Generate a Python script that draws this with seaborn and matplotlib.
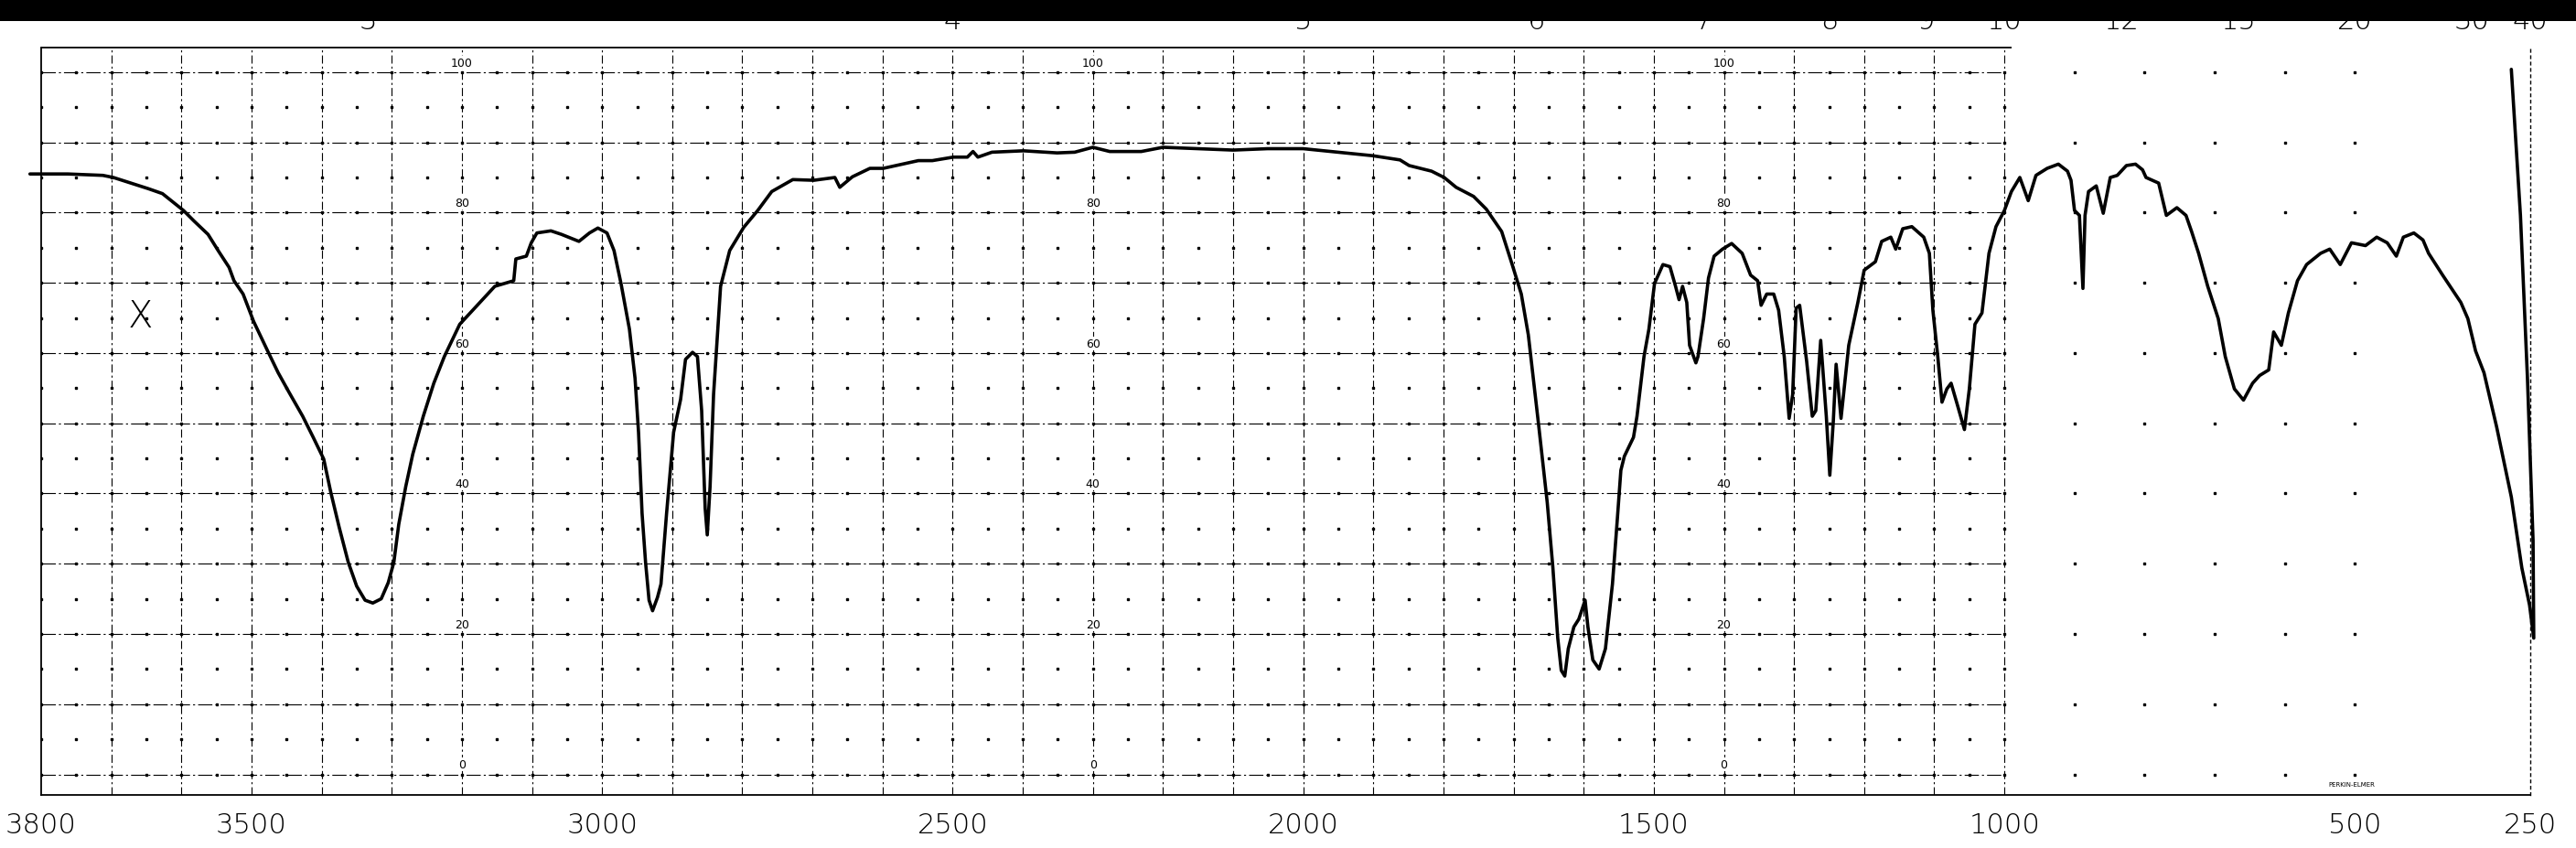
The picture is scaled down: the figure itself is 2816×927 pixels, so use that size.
import matplotlib
matplotlib.use("Agg")
import matplotlib.pyplot as plt
from matplotlib.patches import Rectangle
import numpy as np
import pandas as pd
import seaborn as sns

# IR spectrum: wavenumber (cm-1) and % transmittance, in pen order
wavenumber = [
    3816, 3762, 3712, 3697, 3672, 3647, 3627, 3612, 3597, 3582, 3562, 3547, 3532, 3525, 3512,
    3497, 3477, 3462, 3447, 3427, 3412, 3397, 3387, 3375, 3362, 3350, 3338, 3327, 3315, 3305,
    3297, 3290, 3280, 3270, 3255, 3240, 3225, 3203, 3178, 3153, 3126, 3123, 3108, 3101, 3093,
    3073, 3058, 3033, 3018, 3006, 2993, 2983, 2973, 2961, 2953, 2948, 2943, 2938, 2933, 2928,
    2921, 2916, 2908, 2898, 2888, 2881, 2871, 2864, 2858, 2853, 2850, 2846, 2841, 2831, 2818,
    2798, 2778, 2758, 2728, 2698, 2668, 2661, 2643, 2618, 2599, 2549, 2529, 2499, 2479, 2471,
    2464, 2444, 2399, 2351, 2326, 2300, 2276, 2231, 2200, 2151, 2100, 2051, 2000, 1951, 1901,
    1862, 1849, 1817, 1799, 1782, 1757, 1739, 1717, 1702, 1689, 1679, 1664, 1652, 1644, 1637,
    1632, 1627, 1622, 1614, 1607, 1598, 1594, 1587, 1578, 1569, 1559, 1552, 1547, 1542, 1529,
    1524, 1514, 1507, 1499, 1487, 1477, 1469, 1464, 1459, 1453, 1449, 1440, 1437, 1429, 1422,
    1414, 1402, 1389, 1374, 1362, 1352, 1347, 1339, 1329, 1322, 1314, 1307, 1302, 1297, 1292,
    1282, 1274, 1269, 1262, 1254, 1249, 1244, 1240, 1233, 1222, 1209, 1200, 1184, 1175, 1162,
    1155, 1145, 1132, 1115, 1107, 1102, 1095, 1089, 1082, 1076, 1067, 1057, 1050, 1042, 1032,
    1022, 1012, 1000, 990, 978, 966, 955, 939, 923, 910, 905, 900, 893, 888, 885,
    880, 869, 859, 849, 839, 826, 813, 803, 798, 780, 769, 754, 741, 733, 723,
    710, 695, 685, 672, 659, 646, 636, 623, 616, 605, 595, 582, 569, 549, 536,
    521, 505, 485, 469, 454, 441, 431, 416, 403, 395, 375, 349, 339, 328, 316,
    298, 277, 262, 251, 245, 246, 254, 264, 277,
]
transmittance = [
    85.5, 85.5, 85.3, 85.0, 84.2, 83.4, 82.7, 81.5, 80.3, 78.8, 76.9, 74.5, 72.2, 70.3, 68.4,
    64.5, 60.3, 57.2, 54.5, 51.0, 48.0, 44.9, 40.2, 35.2, 30.2, 26.8, 24.8, 24.4, 25.0, 27.3,
    30.2, 35.6, 41.0, 45.6, 51.0, 55.7, 59.5, 64.1, 66.8, 69.5, 70.3, 73.4, 73.8, 75.7, 77.1,
    77.4, 76.9, 75.9, 77.1, 77.8, 77.1, 74.6, 69.9, 63.4, 56.4, 48.7, 37.2, 30.2, 24.8, 23.3,
    25.2, 27.1, 37.2, 48.7, 53.4, 59.1, 60.1, 59.5, 51.8, 37.9, 34.1, 41.0, 54.1, 69.5, 74.6,
    77.9, 80.3, 83.0, 84.7, 84.6, 85.0, 83.6, 85.1, 86.3, 86.3, 87.4, 87.4, 87.9, 87.9, 88.7,
    87.9, 88.6, 88.8, 88.5, 88.6, 89.3, 88.7, 88.7, 89.3, 89.1, 88.9, 89.1, 89.1, 88.6, 88.1,
    87.5, 86.7, 85.9, 85.0, 83.6, 82.3, 80.5, 77.3, 72.6, 68.4, 62.6, 49.5, 38.7, 29.5, 19.4,
    14.8, 14.0, 17.9, 21.0, 22.1, 24.8, 21.0, 16.3, 15.0, 17.9, 27.1, 36.4, 43.3, 45.3, 48.0,
    51.0, 59.5, 63.4, 69.9, 72.6, 72.3, 69.5, 67.6, 69.5, 67.2, 61.1, 58.6, 59.5, 64.9, 70.7,
    73.8, 74.8, 75.6, 74.2, 71.1, 70.3, 66.8, 68.4, 68.4, 66.1, 59.5, 50.7, 54.1, 66.4, 66.8,
    58.8, 51.0, 51.8, 61.8, 51.0, 42.6, 50.3, 58.4, 50.7, 61.1, 67.2, 71.8, 73.0, 75.9, 76.5,
    74.8, 77.7, 78.0, 76.5, 74.2, 66.1, 59.5, 53.0, 54.9, 55.7, 52.6, 49.1, 54.9, 64.1, 65.7,
    74.2, 78.0, 80.3, 83.0, 85.0, 81.7, 85.3, 86.3, 86.9, 85.9, 84.6, 80.3, 79.6, 69.2, 79.6,
    83.0, 83.8, 79.9, 85.0, 85.3, 86.7, 86.9, 86.1, 85.0, 84.2, 79.6, 80.7, 79.6, 77.3, 74.2,
    69.5, 64.9, 59.5, 54.9, 53.3, 55.7, 56.8, 57.6, 63.0, 61.1, 65.7, 70.3, 72.6, 74.2, 74.8,
    72.6, 75.7, 75.3, 76.5, 75.7, 73.8, 76.5, 77.1, 76.1, 74.2, 71.1, 67.2, 64.9, 60.3, 57.2,
    49.5, 39.5, 29.4, 24.1, 19.4, 33.3, 56.4, 79.6, 100.4,
]

wavenumber_ticks = [3800, 3500, 3000, 2500, 2000, 1500, 1000, 500, 250]
micron_ticks = [3, 4, 5, 6, 7, 8, 9, 10, 12, 15, 20, 30, 40]
percent_labels = [100, 80, 60, 40, 20, 0]
percent_label_columns = [3200, 2300, 1400]
sample_mark = ("X", 3658, 65.3)
maker_note = "PERKIN-ELMER"

sns.set_theme(style="white")
plt.rcParams['font.family'] = ['DejaVu Sans']

W, H = 2816, 928
fig = plt.figure(figsize=(W / 100, H / 100), dpi=100)
fig.patch.set_facecolor('white')
ax = fig.add_axes([45 / W, 58 / H, 2721 / W, 817 / H])
ax.set_facecolor('white')

YLO, YHI = -2.93, 103.5
ax.set_xlim(3800, 250)
ax.set_ylim(YLO, YHI)

# chart paper grid
ax.hlines(np.arange(0, 101, 10), 3800, 1000, colors='black', linewidth=0.8,
          linestyles=(0, (14, 3, 2, 3)), zorder=1)
ax.vlines(np.arange(3700, 999, -100), YLO, YHI, colors='black', linewidth=0.8,
          linestyles=(0, (8, 3, 2, 3)), zorder=1)
gx, gy = np.meshgrid(np.arange(3800, 999, -50), np.arange(0, 101, 5))
ax.plot(gx.ravel(), gy.ravel(), ls='none', marker='s', ms=1.6, color='black', zorder=1)
gx, gy = np.meshgrid(np.arange(900, 499, -100), np.arange(0, 101, 10))
ax.plot(gx.ravel(), gy.ravel(), ls='none', marker='s', ms=1.6, color='black', zorder=1)

df = pd.DataFrame({'wavenumber': wavenumber, 'transmittance': transmittance})
sns.lineplot(data=df, x='wavenumber', y='transmittance', sort=False, estimator=None,
             color='black', linewidth=2.6, ax=ax, zorder=3)
ax.lines[-1].set_clip_on(False)

# frame
ax.spines['top'].set_visible(False)
ax.hlines(YHI, 3800, 990, colors='black', linewidth=1.3, clip_on=False)
for side in ['left', 'bottom']:
    ax.spines[side].set_color('black')
    ax.spines[side].set_linewidth(1.3)
ax.spines['right'].set_color('black')
ax.spines['right'].set_linewidth(1.0)
ax.spines['right'].set_linestyle((0, (2, 3)))

ax.set_xlabel('')
ax.set_ylabel('')
ax.set_yticks([])
ax.set_xticks(wavenumber_ticks)
ax.set_xticklabels([str(t) for t in wavenumber_ticks])
ax.tick_params(axis='x', length=0, pad=13, labelsize=22, colors='black')
for lbl in ax.get_xticklabels():
    lbl.set_fontweight('light')

sec = ax.secondary_xaxis('top', functions=(lambda w: 1e4 / np.maximum(w, 1e-6),
                                            lambda u: 1e4 / np.maximum(u, 1e-6)))
sec.set_xticks(micron_ticks)
sec.set_xticklabels([str(m) for m in micron_ticks])
sec.tick_params(length=0, pad=11, labelsize=22, colors='black')
sec.spines['top'].set_visible(False)
for lbl in sec.get_xticklabels():
    lbl.set_fontweight('light')

for col in percent_label_columns:
    for v in percent_labels:
        ax.text(col, v + 1.4, str(v), ha='center', va='center', fontsize=9, color='black',
                zorder=2, bbox=dict(facecolor='white', edgecolor='none', pad=0.6))

ax.text(sample_mark[1], sample_mark[2], sample_mark[0], ha='center', va='center',
        fontsize=29, fontweight='light', color='black', zorder=2)
ax.text(505, -1.4, maker_note, ha='center', va='center', fontsize=5, color='black', zorder=2)

# scanner band across the top edge
fig.add_artist(Rectangle((0, 1 - 24 / H), 1, 24 / H, transform=fig.transFigure,
                         facecolor='black', edgecolor='none', zorder=10))

fig.savefig('out.png', dpi=100, facecolor='white')
